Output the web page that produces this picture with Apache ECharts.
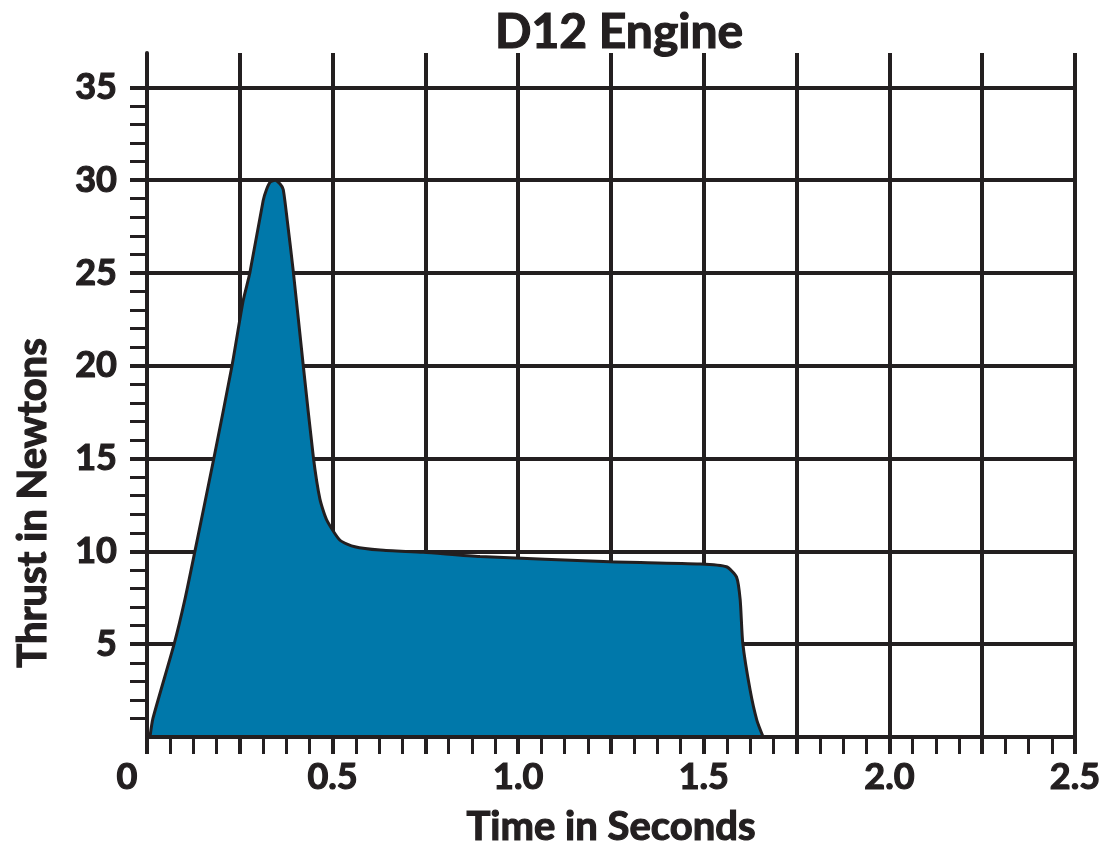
<!DOCTYPE html>
<html>
<head>
<meta charset="utf-8">
<script src="https://cdn.jsdelivr.net/npm/echarts@6/dist/echarts.min.js"></script>
<style>html,body{margin:0;padding:0;background:#fff}#c{width:1118px;height:857px}</style>
</head>
<body>
<div id="c"></div>
<script>
const titleText = 'D12 Engine';
const xName = 'Time in Seconds';
const yName = 'Thrust in Newtons';
const timeSec = [0.008, 0.016, 0.073, 0.102, 0.129, 0.18, 0.229, 0.259, 0.277, 0.313, 0.322, 0.332, 0.345, 0.358, 0.367, 0.378, 0.394, 0.421, 0.448, 0.466, 0.484, 0.52, 0.56, 0.628, 0.744, 0.897, 1.247, 1.49, 1.561, 1.588, 1.598, 1.605, 1.625, 1.643, 1.66];
const thrustN = [0, 1.0, 5, 7.4, 10, 15, 20, 23.5, 25, 28.9, 29.5, 29.9, 30.0, 29.8, 29.5, 27.8, 25.1, 20, 15.1, 12.8, 11.7, 10.6, 10.25, 10.07, 9.95, 9.72, 9.44, 9.32, 9.17, 8.63, 7.4, 5.05, 2.5, 0.9, 0];
const xLabelValues = [0, 0.5, 1.0, 1.5, 2.0, 2.5];
const xLabelText = ['0', '0.5', '1.0', '1.5', '2.0', '2.5'];
const yLabelValues = [5, 10, 15, 20, 25, 30, 35];
const yMinorTicks = [];
for (let i = 1; i <= 35; i++) yMinorTicks.push(i);

const ink = '#231f20';
const fontFam = 'Lato, "Open Sans", sans-serif';
const heavy = { textBorderColor: ink, textBorderWidth: 1.2 };
const chart = echarts.init(document.getElementById('c'));
chart.setOption({
  animation: false,
  title: {
    text: titleText, left: 614, top: 4, textAlign: 'center',
    textStyle: Object.assign({ fontFamily: fontFam, fontWeight: 'bold', fontSize: 48, color: ink }, heavy)
  },
  grid: { left: 147, right: 43, top: 53, bottom: 120 },
  graphic: [{
    type: 'text', x: 33, y: 503, rotation: Math.PI / 2,
    style: { text: yName, font: 'bold 40px ' + fontFam, fill: ink, stroke: ink, lineWidth: 1.2, align: 'center', verticalAlign: 'middle' }
  }],
  xAxis: [{
    type: 'value', min: 0, max: 2.5, interval: 0.0625, position: 'bottom', z: 5,
    name: xName, nameLocation: 'middle', nameGap: 70,
    nameTextStyle: Object.assign({ fontFamily: fontFam, fontWeight: 'bold', fontSize: 40, color: ink }, heavy),
    axisLine: { show: true, lineStyle: { color: ink, width: 4 } },
    axisTick: { show: true, length: 17, lineStyle: { color: ink, width: 3 } },
    axisLabel: Object.assign({
      customValues: xLabelValues, margin: 22,
      fontFamily: fontFam, fontWeight: 'bold', fontSize: 36, color: ink,
      formatter: function (v) {
        const i = xLabelValues.findIndex(x => Math.abs(x - v) < 1e-6);
        const t = i >= 0 ? xLabelText[i] : String(v);
        return v === 0 ? '{z|' + t + '}' : t;
      },
      rich: { z: Object.assign({ fontFamily: fontFam, fontWeight: 'bold', fontSize: 36, color: ink, padding: [0, 40, 0, 0] }, heavy) }
    }, heavy),
    splitLine: { show: false }
  }, {
    type: 'value', min: 0, max: 2.5, interval: 0.25, position: 'bottom',
    axisLine: { show: false },
    axisTick: { show: true, length: 17, lineStyle: { color: ink, width: 4 } },
    axisLabel: { show: false },
    splitLine: { show: true, lineStyle: { color: ink, width: 4 } }
  }],
  yAxis: [{
    type: 'value', min: 0, max: 36.85, position: 'left', z: 5,
    axisLine: { show: true, lineStyle: { color: ink, width: 4 } },
    axisTick: { show: true, customValues: yMinorTicks, length: 17, lineStyle: { color: ink, width: 3 } },
    axisLabel: Object.assign({ customValues: yLabelValues, margin: 30, fontFamily: fontFam, fontWeight: 'bold', fontSize: 36, color: ink }, heavy),
    splitLine: { show: false }
  }, {
    type: 'value', min: 0, max: 36.85, position: 'left',
    axisLine: { show: false },
    axisTick: { show: true, customValues: yLabelValues, length: 17, lineStyle: { color: ink, width: 4 } },
    axisLabel: { show: false },
    splitLine: { show: true, lineStyle: { color: ink, width: 4 } }
  }],
  series: [{
    type: 'line', xAxisIndex: 0, yAxisIndex: 0,
    data: timeSec.map((t, i) => [t, thrustN[i]]),
    smooth: 0.2, showSymbol: false, symbol: 'none',
    lineStyle: { color: ink, width: 3 },
    areaStyle: { color: '#0078aa', opacity: 1 },
    z: 3
  }]
});
</script>
</body>
</html>
